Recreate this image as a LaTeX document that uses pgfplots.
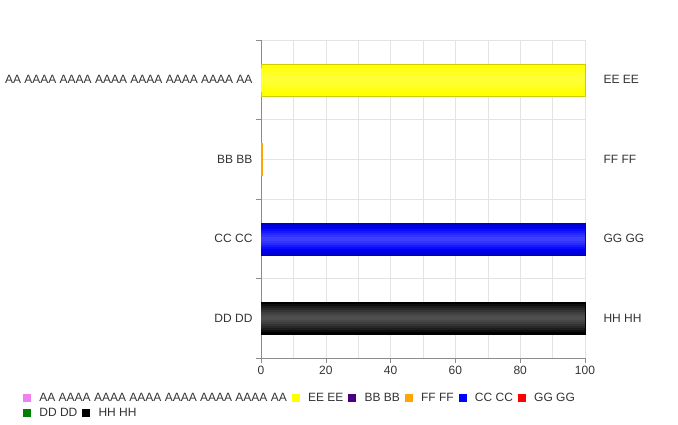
\documentclass[border=0pt]{standalone}
\usepackage{pgfplots}
\pgfplotsset{compat=1.18}
\usepackage{fontspec}
\setmainfont{Liberation Sans}
\definecolor{txt}{HTML}{333333}
\definecolor{gridc}{HTML}{E3E3E3}
\definecolor{axc}{HTML}{8C8C8C}
\definecolor{cpink}{HTML}{EE82EE}
\definecolor{cyellow}{HTML}{FFFF00}
\definecolor{cindigo}{HTML}{4B0082}
\definecolor{corange}{HTML}{FFA500}
\definecolor{cblue}{HTML}{0000FF}
\definecolor{cred}{HTML}{FF0000}
\definecolor{cgreen}{HTML}{008000}
\definecolor{cblack}{HTML}{000000}
\pgfplotstableread{
x y
100 0
}\rowAA
\pgfplotstableread{
x y
0.3 1
}\rowBB
\pgfplotstableread{
x y
100 2
}\rowCC
\pgfplotstableread{
x y
100 3
}\rowDD
\begin{document}
\begin{tikzpicture}[x=1pt,y=1pt]
\path[use as bounding box] (0,0) rectangle (678,424);
\pgfplotsset{
  base/.style={
    scale only axis, width=324pt, height=318pt,
    at={(261pt,66pt)}, anchor=south west,
    xmin=0, xmax=100, ymin=-0.5, ymax=3.5, y dir=reverse,
    font=\fontsize{12}{14}\selectfont, 
    tick label style={font=\fontsize{12}{14}\selectfont, text=txt},
    /pgf/number format/assume math mode=true,
    legend image code/.code={\fill[##1, draw=none] (0pt,-4pt) rectangle (8pt,4pt); \path (14pt,0pt);},
    legend style={draw=none, fill=none, inner sep=1pt, font=\fontsize{12}{14}\selectfont, text=txt,
      /tikz/every even column/.append style={column sep=3pt}, anchor=west},
  },
  layer/.style={xbar, bar width=#1, bar shift=0pt, forget plot, draw=none},
}
\begin{axis}[base,
  axis lines*=left,
  axis line style={axc},
  xtick={0,20,...,100}, minor xtick={10,30,...,90},
  ytick={0,1,2,3}, yticklabels={AA AAAA AAAA AAAA AAAA AAAA AAAA AA, BB BB, CC CC, DD DD},
  minor ytick={-0.5,0.5,1.5,2.5,3.5},
  grid=both, major grid style={gridc}, minor grid style={gridc},
  tick align=outside, major tick length=5pt, minor tick length=5pt,
  ytick style={draw=none}, minor y tick style={draw=axc},
  xtick style={axc}, minor x tick style={draw=none},
  yticklabel style={xshift=0pt},
  legend columns=6,
  legend style={at={(axis description cs:-0.7377,-0.1258)}},
  clip=false,
]
\addlegendimage{fill=cpink}\addlegendentry{AA AAAA AAAA AAAA AAAA AAAA AAAA AA}
\addlegendimage{fill=cyellow}\addlegendentry{EE EE}
\addlegendimage{fill=cindigo}\addlegendentry{BB BB}
\addlegendimage{fill=corange}\addlegendentry{FF FF}
\addlegendimage{fill=cblue}\addlegendentry{CC CC}
\addlegendimage{fill=cred}\addlegendentry{GG GG}
% AA row: yellow (EE EE)
\addplot[layer=32pt, draw={rgb,255:red,205;green,205;blue,0}, fill={rgb,255:red,255;green,255;blue,0}] table {\rowAA};
\addplot[layer=24pt, fill={rgb,255:red,255;green,255;blue,20}] table {\rowAA};
\addplot[layer=16pt, fill={rgb,255:red,255;green,255;blue,38}] table {\rowAA};
\addplot[layer=8pt, fill={rgb,255:red,255;green,255;blue,52}] table {\rowAA};
% BB row: orange sliver
\addplot[layer=32pt, draw=corange, fill=corange] table {\rowBB};
% CC row: blue (GG GG)
\addplot[layer=32pt, draw={rgb,255:red,0;green,0;blue,190}, fill={rgb,255:red,0;green,0;blue,205}] table {\rowCC};
\addplot[layer=28pt, fill={rgb,255:red,0;green,0;blue,222}] table {\rowCC};
\addplot[layer=24pt, fill={rgb,255:red,0;green,0;blue,240}] table {\rowCC};
\addplot[layer=20pt, fill={rgb,255:red,10;green,10;blue,255}] table {\rowCC};
\addplot[layer=16pt, fill={rgb,255:red,25;green,25;blue,255}] table {\rowCC};
\addplot[layer=12pt, fill={rgb,255:red,40;green,40;blue,255}] table {\rowCC};
\addplot[layer=8pt, fill={rgb,255:red,52;green,52;blue,255}] table {\rowCC};
\addplot[layer=4pt, fill={rgb,255:red,62;green,62;blue,255}] table {\rowCC};
% DD row: black (HH HH)
\addplot[layer=32pt, draw=black, fill=black] table {\rowDD};
\addplot[layer=28pt, fill={rgb,255:red,14;green,14;blue,14}] table {\rowDD};
\addplot[layer=24pt, fill={rgb,255:red,28;green,28;blue,28}] table {\rowDD};
\addplot[layer=20pt, fill={rgb,255:red,40;green,40;blue,40}] table {\rowDD};
\addplot[layer=16pt, fill={rgb,255:red,52;green,52;blue,52}] table {\rowDD};
\addplot[layer=12pt, fill={rgb,255:red,62;green,62;blue,62}] table {\rowDD};
\addplot[layer=8pt, fill={rgb,255:red,71;green,71;blue,71}] table {\rowDD};
\addplot[layer=4pt, fill={rgb,255:red,78;green,78;blue,78}] table {\rowDD};
\end{axis}
\begin{axis}[base,
  hide x axis,
  axis y line*=right, y axis line style={draw=none},
  ytick={0,1,2,3}, yticklabels={EE EE, FF FF, GG GG, HH HH},
  ytick style={draw=none},
  yticklabel style={anchor=west, xshift=15pt},
  legend columns=2,
  legend style={at={(axis description cs:-0.7377,-0.1730)}},
]
\addlegendimage{fill=cgreen}\addlegendentry{DD DD}
\addlegendimage{fill=cblack}\addlegendentry{HH HH}
\end{axis}
\end{tikzpicture}
\end{document}
